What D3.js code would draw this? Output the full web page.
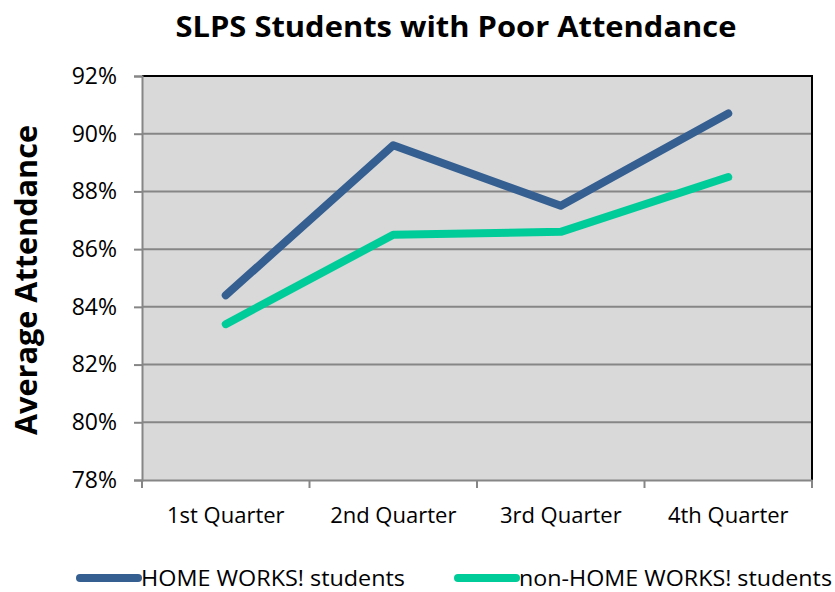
<!DOCTYPE html>
<html>
<head>
<meta charset="utf-8">
<script src="https://cdn.jsdelivr.net/npm/d3@7"></script>
<style>
  body { margin: 0; background: #fff; }
  text { font-family: "Open Sans", "Liberation Sans", sans-serif; fill: #000; }
</style>
</head>
<body>
<div class="chart"></div>
<script>
var quarters = ["1st Quarter", "2nd Quarter", "3rd Quarter", "4th Quarter"];
var homeWorks = [84.4, 89.6, 87.5, 90.7];
var nonHomeWorks = [83.4, 86.5, 86.6, 88.5];
var yTicks = [78, 80, 82, 84, 86, 88, 90, 92];
var seriesNames = ["HOME WORKS! students", "non-HOME WORKS! students"];
var seriesColors = ["#355f91", "#00cc99"];

var W = 835, H = 592;
var margin = {top: 76, right: 23, bottom: 112, left: 142},
    width = W - margin.left - margin.right,
    height = H - margin.top - margin.bottom;

var svg = d3.select(".chart")
  .append("svg")
    .attr("width", W)
    .attr("height", H);

// title
svg.append("text")
  .attr("x", 456).attr("y", 37)
  .attr("text-anchor", "middle")
  .style("font-size", "29px")
  .style("font-weight", "bold")
  .attr("textLength", 561)
  .attr("lengthAdjust", "spacingAndGlyphs")
  .text("SLPS Students with Poor Attendance");

// y axis title
svg.append("text")
  .attr("transform", "translate(37,280)rotate(-90)")
  .attr("text-anchor", "middle")
  .style("font-size", "31px")
  .style("font-weight", "bold")
  .attr("textLength", 310)
  .attr("lengthAdjust", "spacingAndGlyphs")
  .text("Average Attendance");

var g = svg.append("g")
  .attr("transform", "translate(" + margin.left + "," + margin.top + ")");

var x = d3.scaleBand()
  .domain(quarters)
  .range([0, width]);

var y = d3.scaleLinear()
  .domain([78, 92])
  .range([height, 0]);

// plot background
g.append("rect")
  .attr("width", width)
  .attr("height", height)
  .attr("fill", "#d9d9d9");

// gridlines
g.selectAll(".grid")
  .data(yTicks.slice(1, -1))
  .enter()
  .append("line")
    .attr("x1", 0).attr("x2", width)
    .attr("y1", function(d) { return y(d); })
    .attr("y2", function(d) { return y(d); })
    .attr("stroke", "#868686")
    .attr("stroke-width", 2);

// top and right border
g.append("path")
  .attr("d", "M0,0H" + width + "V" + height)
  .attr("fill", "none")
  .attr("stroke", "#000")
  .attr("stroke-width", 2);

// y axis
var yAxis = g.append("g")
  .call(d3.axisLeft(y).tickValues(yTicks).tickSize(8).tickPadding(17)
    .tickFormat(function(d) { return d + "%"; }));
yAxis.select(".domain").attr("stroke", "#868686").attr("stroke-width", 2);
yAxis.selectAll(".tick line").attr("stroke", "#868686").attr("stroke-width", 2);
yAxis.selectAll("text").style("font-size", "23px").attr("fill", "#000");

// x axis: ticks at category boundaries
var xAxis = g.append("g")
  .attr("transform", "translate(0," + height + ")")
  .call(d3.axisBottom(x).tickSize(0).tickPadding(27));
xAxis.select(".domain").attr("stroke", "#868686").attr("stroke-width", 2);
xAxis.selectAll("text").style("font-size", "22px").attr("fill", "#000");
xAxis.selectAll(".bound")
  .data(quarters.concat(["end"]))
  .enter()
  .append("line")
    .attr("x1", function(d, i) { return i * x.step(); })
    .attr("x2", function(d, i) { return i * x.step(); })
    .attr("y1", 0).attr("y2", 8)
    .attr("stroke", "#868686")
    .attr("stroke-width", 2);

// lines
var line = d3.line()
  .x(function(d, i) { return x(quarters[i]) + x.bandwidth() / 2; })
  .y(function(d) { return y(d); });

[homeWorks, nonHomeWorks].forEach(function(s, i) {
  g.append("path")
    .datum(s)
    .attr("d", line)
    .attr("fill", "none")
    .attr("stroke", seriesColors[i])
    .attr("stroke-width", 8)
    .attr("stroke-linecap", "round")
    .attr("stroke-linejoin", "round");
});

// legend
var legendX = [80, 458];
seriesNames.forEach(function(name, i) {
  svg.append("line")
    .attr("x1", legendX[i]).attr("x2", legendX[i] + 58)
    .attr("y1", 578).attr("y2", 578)
    .attr("stroke", seriesColors[i])
    .attr("stroke-width", 8)
    .attr("stroke-linecap", "round");
  svg.append("text")
    .attr("x", legendX[i] + 61).attr("y", 586)
    .style("font-size", "22px")
    .attr("textLength", i === 0 ? 264 : 313)
    .attr("lengthAdjust", "spacingAndGlyphs")
    .text(name);
});
</script>
</body>
</html>
